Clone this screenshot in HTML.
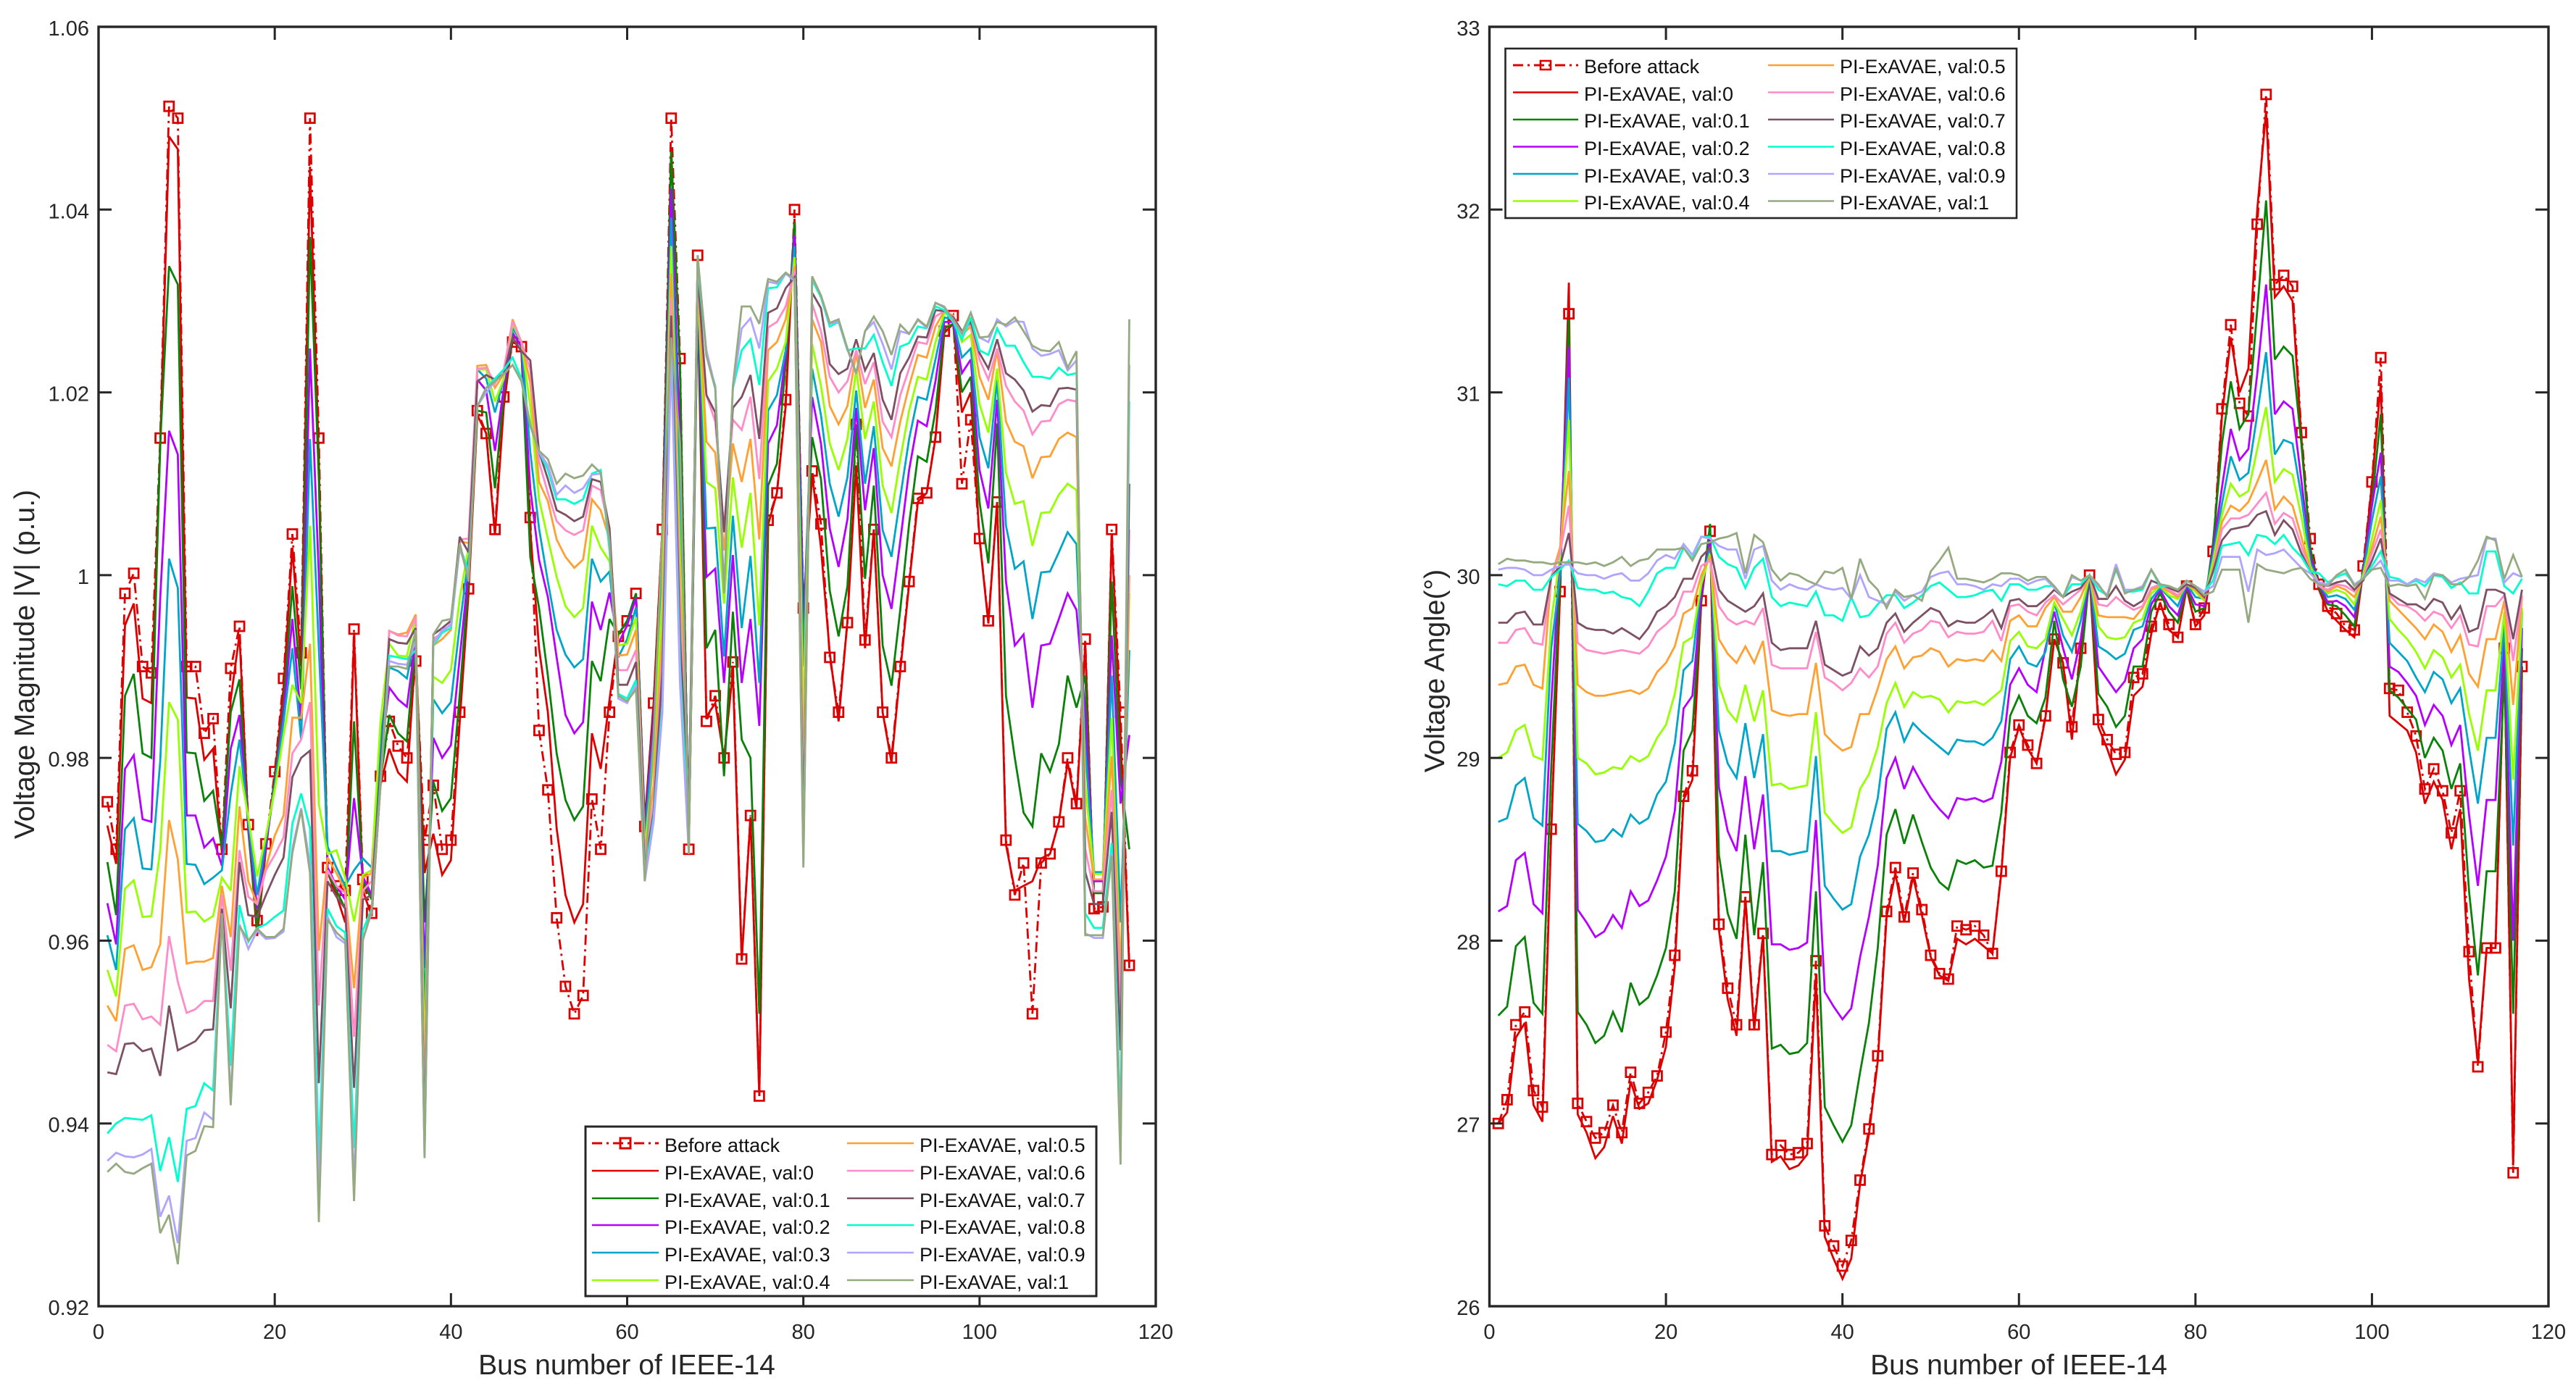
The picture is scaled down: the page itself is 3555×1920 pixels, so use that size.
<!DOCTYPE html>
<html lang="en">
<head>
<meta charset="utf-8">
<title>Voltage magnitude and angle after attack, PI-ExAVAE</title>
<style>
html,body{margin:0;padding:0;background:#fff;}
svg{display:block;}
text{font-family:"Liberation Sans",sans-serif;fill:#262626;}
.tick{font-size:29px;}
.lab{font-size:39px;}
.leg{font-size:27px;fill:#111;}
</style>
</head>
<body>
<svg id="fig" xmlns="http://www.w3.org/2000/svg" width="3555" height="1920" viewBox="0 0 3555 1920">
<rect width="3555" height="1920" fill="#fff"/>
<g id="magPlot"></g>
<g id="angPlot"></g>
<text class="lab" x="865" y="1897" text-anchor="middle">Bus number of IEEE-14</text>
<text class="lab" transform="translate(47 917) rotate(-90)" text-anchor="middle">Voltage Magnitude |V| (p.u.)</text>
<text class="lab" x="2786" y="1897" text-anchor="middle">Bus number of IEEE-14</text>
<text class="lab" transform="translate(1993 926) rotate(-90)" text-anchor="middle">Voltage Angle(°)</text>

<g>
<rect x="808" y="1555" width="705" height="234" fill="#fff" stroke="#262626" stroke-width="3"/>
<line x1="817" y1="1578" x2="909" y2="1578" stroke="#dc0000" stroke-width="3" stroke-dasharray="14 6 3 6"/>
<rect x="856" y="1571" width="14" height="14" fill="none" stroke="#dc0000" stroke-width="3"/>
<text class="leg" x="917" y="1590">Before attack</text>
<line x1="817" y1="1616" x2="909" y2="1616" stroke="#dc0000" stroke-width="2.6"/>
<text class="leg" x="917" y="1628">PI-ExAVAE, val:0</text>
<line x1="817" y1="1654" x2="909" y2="1654" stroke="#0a820a" stroke-width="2.6"/>
<text class="leg" x="917" y="1666">PI-ExAVAE, val:0.1</text>
<line x1="817" y1="1691" x2="909" y2="1691" stroke="#b400ff" stroke-width="2.6"/>
<text class="leg" x="917" y="1703">PI-ExAVAE, val:0.2</text>
<line x1="817" y1="1729" x2="909" y2="1729" stroke="#00a5c8" stroke-width="2.6"/>
<text class="leg" x="917" y="1741">PI-ExAVAE, val:0.3</text>
<line x1="817" y1="1767" x2="909" y2="1767" stroke="#96ff00" stroke-width="2.6"/>
<text class="leg" x="917" y="1779">PI-ExAVAE, val:0.4</text>
<line x1="1169" y1="1578" x2="1261" y2="1578" stroke="#ffa032" stroke-width="2.6"/>
<text class="leg" x="1269" y="1590">PI-ExAVAE, val:0.5</text>
<line x1="1169" y1="1616" x2="1261" y2="1616" stroke="#ff8cc8" stroke-width="2.6"/>
<text class="leg" x="1269" y="1628">PI-ExAVAE, val:0.6</text>
<line x1="1169" y1="1654" x2="1261" y2="1654" stroke="#7d5064" stroke-width="2.6"/>
<text class="leg" x="1269" y="1666">PI-ExAVAE, val:0.7</text>
<line x1="1169" y1="1691" x2="1261" y2="1691" stroke="#00ffcd" stroke-width="2.6"/>
<text class="leg" x="1269" y="1703">PI-ExAVAE, val:0.8</text>
<line x1="1169" y1="1729" x2="1261" y2="1729" stroke="#afa5ff" stroke-width="2.6"/>
<text class="leg" x="1269" y="1741">PI-ExAVAE, val:0.9</text>
<line x1="1169" y1="1767" x2="1261" y2="1767" stroke="#96aa82" stroke-width="2.6"/>
<text class="leg" x="1269" y="1779">PI-ExAVAE, val:1</text>
</g>

<g>
<rect x="2077.5" y="67" width="705.5" height="234" fill="#fff" stroke="#262626" stroke-width="2.6"/>
<line x1="2088" y1="90" x2="2178" y2="90" stroke="#dc0000" stroke-width="3" stroke-dasharray="14 6 3 6"/>
<rect x="2126" y="84" width="14" height="12" fill="none" stroke="#dc0000" stroke-width="2.6"/>
<text class="leg" x="2186" y="101">Before attack</text>
<line x1="2088" y1="127.5" x2="2178" y2="127.5" stroke="#dc0000" stroke-width="2.6"/>
<text class="leg" x="2186" y="139">PI-ExAVAE, val:0</text>
<line x1="2088" y1="165" x2="2178" y2="165" stroke="#0a820a" stroke-width="2.6"/>
<text class="leg" x="2186" y="176">PI-ExAVAE, val:0.1</text>
<line x1="2088" y1="202.5" x2="2178" y2="202.5" stroke="#b400ff" stroke-width="2.6"/>
<text class="leg" x="2186" y="214">PI-ExAVAE, val:0.2</text>
<line x1="2088" y1="240" x2="2178" y2="240" stroke="#00a5c8" stroke-width="2.6"/>
<text class="leg" x="2186" y="252">PI-ExAVAE, val:0.3</text>
<line x1="2088" y1="277.5" x2="2178" y2="277.5" stroke="#96ff00" stroke-width="2.6"/>
<text class="leg" x="2186" y="289">PI-ExAVAE, val:0.4</text>
<line x1="2440" y1="90" x2="2531" y2="90" stroke="#ffa032" stroke-width="2.6"/>
<text class="leg" x="2539" y="101">PI-ExAVAE, val:0.5</text>
<line x1="2440" y1="127.5" x2="2531" y2="127.5" stroke="#ff8cc8" stroke-width="2.6"/>
<text class="leg" x="2539" y="139">PI-ExAVAE, val:0.6</text>
<line x1="2440" y1="165" x2="2531" y2="165" stroke="#7d5064" stroke-width="2.6"/>
<text class="leg" x="2539" y="176">PI-ExAVAE, val:0.7</text>
<line x1="2440" y1="202.5" x2="2531" y2="202.5" stroke="#00ffcd" stroke-width="2.6"/>
<text class="leg" x="2539" y="214">PI-ExAVAE, val:0.8</text>
<line x1="2440" y1="240" x2="2531" y2="240" stroke="#afa5ff" stroke-width="2.6"/>
<text class="leg" x="2539" y="252">PI-ExAVAE, val:0.9</text>
<line x1="2440" y1="277.5" x2="2531" y2="277.5" stroke="#96aa82" stroke-width="2.6"/>
<text class="leg" x="2539" y="289">PI-ExAVAE, val:1</text>
</g>
</svg>

<script>
const xTickValues = [0, 20, 40, 60, 80, 100, 120];
const magTickLabels = ['0.92', '0.94', '0.96', '0.98', '1', '1.02', '1.04', '1.06'];
const magTickValues = [0.92, 0.94, 0.96, 0.98, 1, 1.02, 1.04, 1.06];
const angTickLabels = ['26', '27', '28', '29', '30', '31', '32', '33'];
const angTickValues = [26, 27, 28, 29, 30, 31, 32, 33];
const seriesNames = ['val-0', 'val-0.1', 'val-0.2', 'val-0.3', 'val-0.4', 'val-0.5', 'val-0.6', 'val-0.7', 'val-0.8', 'val-0.9', 'val-1'];
const seriesColors = ['#dc0000', '#0a820a', '#b400ff', '#00a5c8', '#96ff00', '#ffa032', '#ff8cc8', '#7d5064', '#00ffcd', '#afa5ff', '#96aa82'];

/* Voltage magnitude (p.u.), buses 1..117 */
const magBefore = [
.9752,.970,.998,1.0002,.990,.9893,1.015,1.0513,1.050,.990,
.990,.9827,.9843,.970,.9898,.9944,.9727,.9622,.9706,.9785,
.9887,1.0045,.9915,1.050,1.015,.968,.966,.9655,.9941,.9667,
.963,.978,.984,.9813,.980,.9906,.971,.977,.970,.971,
.985,.9985,1.018,1.0155,1.005,1.0195,1.0255,1.025,1.0063,.983,
.9765,.9625,.955,.952,.954,.9755,.970,.985,.9933,.995,
.998,.9725,.986,1.005,1.050,1.0237,.970,1.035,.984,.9868,
.980,.9905,.958,.9737,.943,1.006,1.009,1.0192,1.040,.9964,
1.0114,1.0056,.991,.985,.9948,1.0165,.9929,1.005,.985,.980,
.990,.9993,1.0084,1.009,1.0151,1.0267,1.0284,1.010,1.017,1.004,
.995,1.008,.971,.965,.9685,.952,.9685,.9695,.973,.980,
.975,.993,.9635,.9637,1.005,.985,.9573];
const magVal0 = [
.9726,.9684,.9945,.9969,.9865,.986,1.014,1.048,1.0466,.9866,
.9865,.9798,.981,.9696,.9864,.9935,.9725,.9605,.970,.978,
.9877,1.003,.990,1.0447,1.0125,.9675,.965,.962,.9935,.9655,
.9627,.977,.981,.9784,.9774,.992,.9674,.9717,.9672,.9688,
.984,.998,1.0175,1.0155,1.0044,1.0185,1.026,1.0245,1.005,.992,
.985,.9723,.965,.962,.964,.9827,.9788,.9864,.9935,.995,
.998,.973,.986,1.005,1.0467,1.0225,.970,1.030,.9845,.986,
.980,.9895,.9578,.9735,.943,1.0055,1.009,1.0185,1.039,.996,
1.011,1.003,.9915,.984,.995,1.012,.992,1.005,.985,.9795,
.9895,.999,1.008,1.009,1.015,1.0265,1.0275,1.0178,1.020,1.004,
.9947,1.008,.9705,.9655,.966,.9665,.969,.9695,.973,.9795,
.9745,.9925,.9632,.9632,1.0045,.9825,.957];
const magVal01 = [
.9686,.9628,.9868,.9892,.9805,.980,1.0144,1.0338,1.0318,.9806,
.9805,.9753,.9764,.9701,.985,.9886,.972,.9615,.9705,.9775,
.986,.9988,.9875,1.037,1.0105,.9675,.9655,.9635,.984,.9665,
.9645,.9775,.9847,.9827,.9818,.993,.962,.9774,.9742,.9756,
.987,.9995,1.018,1.0178,1.0095,1.020,1.026,1.0245,1.002,.9964,
.989,.9805,.9754,.9732,.9747,.9906,.9884,.9952,.9935,.995,
.998,.9725,.9845,1.0035,1.0464,1.0225,.970,1.0297,.992,.994,
.978,.996,.982,.980,.952,1.0098,1.0122,1.0231,1.0386,.995,
1.0151,1.0105,.9983,.9933,.9988,1.0163,.9996,1.0098,.9923,.9879,
.9962,1.0056,1.013,1.0124,1.018,1.027,1.0275,1.020,1.0217,1.008,
1.0013,1.0166,.9868,.980,.974,.9725,.9805,.9785,.9815,.989,
.9855,.989,.9652,.9652,.9993,.978,.970];
const magVal02 = [
.9641,.9596,.9788,.9803,.9733,.973,.9975,1.0158,1.0132,.9737,
.9737,.9702,.9712,.9682,.981,.9847,.9725,.9635,.9705,.977,
.985,.9952,.984,1.0248,1.000,.968,.966,.9645,.9756,.967,
.965,.980,.9877,.9864,.9856,.993,.957,.9822,.980,.9814,
.991,1.0005,1.0214,1.0202,1.0136,1.0205,1.0265,1.025,1.0095,1.0017,
.9976,.991,.9847,.9827,.9839,.9971,.994,.9981,.9925,.9945,
.9975,.972,.984,1.002,1.0423,1.0144,.971,1.031,.9998,1.0007,
.9882,1.0022,.9882,.9952,.9835,1.0144,1.0164,1.0241,1.0372,.9935,
1.0195,1.0144,1.0051,1.0009,1.0061,1.0183,1.0071,1.0139,1.000,.9963,
1.0037,1.0115,1.0169,1.0163,1.0212,1.0277,1.0277,1.0221,1.0236,1.0115,
1.0073,1.0192,.9993,.9923,.9935,.9855,.9923,.9925,.9952,.998,
.9962,.985,.9665,.9665,.9934,.975,.9825];
const magVal03 = [
.9606,.9568,.9722,.9734,.9679,.9678,.9796,1.0018,.9986,.9684,
.9683,.9662,.9669,.9677,.976,.982,.973,.965,.971,.977,
.984,.992,.982,1.0149,.992,.9703,.968,.966,.9677,.969,
.968,.982,.9899,.9895,.9887,.9935,.952,.9864,.9849,.9861,
.9945,1.002,1.0225,1.0215,1.0178,1.0215,1.027,1.0255,1.0135,1.0051,
.9993,.994,.9913,.9899,.9908,1.0018,.9993,1.0004,.991,.993,
.9965,.971,.9825,1.0005,1.0391,1.0085,.972,1.032,1.0051,1.0052,
.9911,1.0065,.9942,1.0021,.9882,1.018,1.0197,1.0246,1.036,.990,
1.0226,1.0175,1.010,1.0064,1.0107,1.0202,1.010,1.0163,1.0049,1.002,
1.0085,1.0149,1.0195,1.0192,1.0236,1.0282,1.028,1.0238,1.0248,1.0151,
1.0117,1.0214,1.0054,1.0007,1.0015,.9952,1.0003,1.0004,1.0025,1.0047,
1.0034,.981,.9675,.9675,.989,.962,.9918];
const magVal04 = [
.9568,.9539,.9657,.9666,.9626,.9627,.9699,.9861,.9842,.9631,
.9632,.9621,.9627,.9669,.9655,.9791,.9735,.967,.9715,.9765,
.9825,.988,.986,1.0054,.975,.9695,.9699,.9669,.9621,.9672,
.9677,.984,.9925,.9912,.9911,.9954,.947,.9889,.9882,.9896,
.9975,1.003,1.0225,1.0225,1.019,1.0215,1.0275,1.0255,1.0185,1.0083,
1.004,.9998,.9966,.9954,.9964,1.0054,1.003,1.0015,.9923,.9925,
.9954,.970,.980,.998,1.036,1.002,.973,1.032,1.0102,1.0095,
.9969,1.0107,1.003,1.009,.9945,1.0212,1.0226,1.0255,1.0348,.984,
1.0253,1.0207,1.0144,1.0115,1.0149,1.0226,1.0149,1.019,1.0098,1.0068,
1.0127,1.018,1.0217,1.0214,1.0255,1.0287,1.0282,1.0255,1.0263,1.0187,
1.0156,1.0226,1.0112,1.0078,1.0081,1.0032,1.0068,1.0069,1.0088,1.010,
1.0093,.977,.9673,.9673,.9844,.956,.998];
const magVal05 = [
.9529,.9512,.9591,.9595,.9568,.9571,.9596,.9732,.9689,.9575,
.9577,.9577,.9581,.966,.9604,.9747,.9665,.964,.968,.9715,
.9737,.9844,.9844,.9925,.9589,.9691,.9674,.9655,.9548,.9669,
.9674,.9767,.9939,.9935,.9937,.9957,.943,.9923,.993,.994,
1.0037,1.0035,1.0229,1.023,1.0205,1.022,1.028,1.0255,1.021,1.0102,
1.0081,1.0039,1.002,1.0008,1.0017,1.0083,1.0071,1.0039,.9912,.9913,
.994,.9695,.977,.994,1.033,.9985,.974,1.0325,1.0146,1.0134,
1.0027,1.0144,1.0102,1.0149,1.0039,1.0246,1.0255,1.028,1.0338,.978,
1.028,1.0255,1.0185,1.0165,1.0185,1.0243,1.0183,1.0214,1.0139,1.0119,
1.0168,1.0207,1.0241,1.0238,1.0272,1.0289,1.0284,1.0263,1.0272,1.0217,
1.0192,1.0246,1.0168,1.0146,1.0141,1.0106,1.0129,1.013,1.0149,1.0156,
1.0151,.9735,.9667,.9667,.9802,.955,1.000];
const magVal06 = [
.9486,.9479,.9529,.9531,.9514,.9517,.9508,.9605,.9555,.9521,
.9525,.9534,.9534,.965,.9567,.9699,.9648,.964,.9677,.9694,
.9713,.9805,.982,.9861,.9529,.9677,.966,.9652,.9495,.9655,
.9665,.978,.9939,.9934,.9933,.9954,.940,.993,.9937,.9947,
1.0039,1.004,1.0226,1.0227,1.021,1.0225,1.0278,1.0255,1.0225,1.0124,
1.009,1.0059,1.0049,1.0044,1.0049,1.0098,1.0093,1.0047,.9896,.9896,
.9918,.969,.975,.9915,1.0304,.996,.9745,1.0325,1.0197,1.0168,
1.0051,1.017,1.0159,1.0195,1.0105,1.0271,1.0277,1.0294,1.0333,.974,
1.0297,1.0267,1.0217,1.020,1.0212,1.0246,1.0209,1.0233,1.0168,1.0151,
1.0197,1.0226,1.0255,1.0253,1.0283,1.0289,1.0283,1.0267,1.0275,1.0236,
1.0214,1.0248,1.0207,1.019,1.018,1.0154,1.0168,1.0169,1.0187,1.0192,
1.019,.970,.9654,.9654,.9765,.952,1.005];
const magVal07 = [
.9456,.9454,.9487,.9488,.9479,.9482,.9452,.9529,.948,.9485,
.949,.9502,.9503,.9635,.9526,.9686,.9628,.9626,.965,.9672,
.9691,.9779,.980,.9808,.9444,.9665,.9648,.9635,.9439,.9645,
.965,.979,.993,.9926,.9925,.9942,.9385,.9935,.9942,.995,
1.0042,1.0025,1.0212,1.0219,1.0214,1.022,1.026,1.0245,1.0235,1.0135,
1.0105,1.0071,1.0066,1.0059,1.0064,1.0105,1.0102,1.0051,.988,.988,
.9905,.968,.974,.9895,1.0284,.993,.9745,1.033,1.0197,1.0178,
1.0047,1.0183,1.0195,1.0219,1.0149,1.0287,1.0292,1.0314,1.0326,.972,
1.0309,1.0292,1.0231,1.022,1.0226,1.0258,1.0224,1.0243,1.0192,1.017,
1.0221,1.0238,1.0261,1.026,1.029,1.0289,1.0282,1.0267,1.0277,1.0243,
1.0226,1.0258,1.0221,1.0214,1.0202,1.0179,1.0186,1.0185,1.0204,1.0205,
1.0203,.9675,.964,.964,.9741,.948,1.010];
const magVal08 = [
.9389,.940,.9406,.9405,.9404,.9409,.9348,.9385,.9336,.9416,
.9419,.9444,.9436,.9626,.9463,.9639,.9599,.9614,.9618,.9626,
.9633,.9728,.9761,.9723,.9359,.9635,.9616,.9609,.9373,.9611,
.9635,.9775,.9912,.991,.9908,.9918,.937,.9923,.9937,.9942,
1.0032,1.0003,1.0185,1.0205,1.0215,1.0225,1.0238,1.0215,1.0165,1.0135,
1.0115,1.0083,1.0083,1.0078,1.0083,1.0111,1.0115,1.0027,.987,.9865,
.9885,.967,.9735,.986,1.0253,.990,.971,1.034,1.0241,1.0207,
.9983,1.0204,1.0246,1.0258,1.0208,1.0314,1.0315,1.033,1.0324,.969,
1.0323,1.0304,1.0272,1.0277,1.0246,1.0248,1.0248,1.0263,1.0233,1.0207,
1.025,1.0254,1.0272,1.027,1.0294,1.029,1.0277,1.0258,1.0282,1.0246,
1.0241,1.027,1.0251,1.0251,1.0233,1.0217,1.0217,1.0215,1.0227,1.0219,
1.0221,.963,.9614,.9614,.9707,.940,1.019];
const magVal09 = [
.9359,.9368,.9364,.9363,.9366,.9372,.9298,.9321,.9269,.9381,
.9384,.9412,.9404,.963,.9429,.9618,.9591,.9611,.9602,.9603,
.961,.9701,.9745,.9684,.932,.9626,.9604,.9597,.9334,.9601,
.9631,.977,.9906,.9903,.9902,.9928,.9365,.9925,.994,.9945,
1.003,.9998,1.0185,1.020,1.0212,1.022,1.023,1.0212,1.0165,1.0135,
1.012,1.0088,1.0098,1.009,1.0095,1.011,1.0111,1.0035,.9865,.986,
.988,.9665,.973,.985,1.024,.988,.9695,1.0345,1.0246,1.0205,
.9985,1.0205,1.027,1.0281,1.0248,1.0321,1.0319,1.033,1.0322,.9685,
1.0326,1.0306,1.0275,1.0278,1.0247,1.022,1.0267,1.0277,1.0253,1.0225,
1.0267,1.0264,1.0279,1.0271,1.0298,1.0294,1.0279,1.0264,1.0287,1.026,
1.0255,1.028,1.0272,1.0278,1.0277,1.0248,1.024,1.0242,1.0246,1.0224,
1.0235,.9608,.9603,.9603,.9695,.937,1.023];
const magVal1 = [
.9347,.9356,.9347,.9345,.9351,.9356,.928,.930,.9246,.9365,
.937,.9397,.9396,.963,.942,.9616,.960,.9613,.9604,.9604,
.9613,.9696,.9743,.9674,.9292,.9623,.9609,.960,.9315,.9601,
.9633,.977,.990,.990,.98975,.994,.9362,.9935,.995,.9952,
1.0035,.9993,1.0185,1.0205,1.0212,1.022,1.023,1.0212,1.0163,1.0136,
1.0127,1.010,1.0111,1.0106,1.0109,1.0121,1.0112,1.0037,.9868,.9862,
.9875,.9665,.982,1.005,1.026,1.0144,.9695,1.035,1.024,1.0204,
.998,1.0207,1.0294,1.0294,1.0275,1.0324,1.0321,1.0331,1.0324,.968,
1.0327,1.0306,1.0276,1.028,1.0248,1.0221,1.0267,1.0283,1.0267,1.0241,
1.0274,1.0264,1.028,1.0272,1.0298,1.0293,1.028,1.0265,1.0287,1.026,
1.0261,1.0277,1.0274,1.0282,1.0267,1.0251,1.0246,1.0245,1.0255,1.0227,
1.0245,.9606,.9606,.9606,.9693,.9355,1.028];

/* Voltage angle (deg), buses 1..117 */
const angBefore = [
27.0,27.13,27.54,27.61,27.18,27.09,28.61,29.91,31.43,27.11,
27.01,26.92,26.95,27.1,26.95,27.28,27.11,27.17,27.26,27.5,
27.92,28.79,28.93,29.86,30.24,28.09,27.74,27.54,28.24,27.54,
28.04,26.83,26.88,26.83,26.84,26.89,27.89,26.44,26.33,26.22,
26.36,26.69,26.97,27.37,28.16,28.4,28.13,28.37,28.17,27.92,
27.82,27.79,28.08,28.06,28.08,28.03,27.93,28.38,29.03,29.18,
29.07,28.97,29.23,29.65,29.52,29.17,29.6,30.0,29.21,29.1,
29.02,29.03,29.44,29.46,29.72,29.84,29.73,29.66,29.94,29.73,
29.82,30.13,30.91,31.37,30.94,30.87,31.92,32.63,31.59,31.64,
31.58,30.78,30.2,29.95,29.83,29.79,29.72,29.7,30.05,30.51,
31.19,29.38,29.37,29.25,29.12,28.83,28.94,28.82,28.59,28.82,
27.94,27.31,27.96,27.96,29.6,26.73,29.5];
const angVal0 = [
27.0,27.06,27.47,27.55,27.1,27.01,28.6,29.9,31.6,27.05,
26.95,26.81,26.87,27.04,26.89,27.23,27.08,27.11,27.24,27.42,
27.86,28.77,28.88,29.85,30.25,28.06,27.68,27.48,28.23,27.51,
28.03,26.79,26.82,26.75,26.77,26.83,27.81,26.38,26.26,26.15,
26.26,26.67,26.94,27.34,28.13,28.37,28.1,28.35,28.14,27.91,
27.81,27.78,28.01,27.98,28.01,27.97,27.93,28.37,29.0,29.17,
29.05,28.97,29.22,29.65,29.52,29.1,29.6,30.0,29.17,29.05,
28.91,28.99,29.34,29.39,29.68,29.85,29.7,29.66,29.93,29.72,
29.78,30.1,30.87,31.3,31.0,31.13,32.0,32.54,31.52,31.58,
31.5,30.75,30.15,29.92,29.8,29.75,29.7,29.66,30.02,30.5,
31.05,29.23,29.19,29.15,29.03,28.75,28.87,28.77,28.5,28.72,
27.79,27.34,27.96,27.96,29.6,26.77,29.5];
const angVal01 = [
27.59,27.64,27.97,28.02,27.66,27.6,28.95,30.0,31.4,27.61,
27.54,27.44,27.48,27.61,27.5,27.77,27.65,27.69,27.81,27.96,
28.27,29.04,29.15,29.87,30.28,28.47,28.15,28.01,28.58,28.03,
28.43,27.41,27.43,27.38,27.39,27.44,28.27,27.09,26.99,26.9,
26.99,27.28,27.55,27.96,28.58,28.72,28.53,28.69,28.54,28.4,
28.32,28.28,28.44,28.42,28.44,28.4,28.41,28.7,29.23,29.34,
29.23,29.19,29.33,29.75,29.43,29.28,29.5,30.0,29.35,29.28,
29.17,29.23,29.5,29.5,29.8,29.9,29.8,29.74,29.93,29.8,
29.82,30.18,30.72,31.06,30.8,30.88,31.45,32.05,31.18,31.25,
31.2,30.72,30.15,29.93,29.84,29.83,29.78,29.72,30.03,30.4,
30.88,29.37,29.33,29.27,29.21,29.0,29.11,29.04,28.83,28.97,
28.27,27.81,28.38,28.38,29.47,27.6,29.6];
const angVal02 = [
28.16,28.19,28.44,28.48,28.2,28.15,29.3,30.1,31.25,28.17,
28.1,28.02,28.05,28.14,28.07,28.27,28.19,28.22,28.33,28.46,
28.71,29.27,29.34,29.9,30.2,28.84,28.6,28.49,28.9,28.5,
28.8,27.98,27.98,27.95,27.96,27.99,28.66,27.72,27.64,27.57,
27.63,27.91,28.13,28.41,28.89,29.0,28.83,28.95,28.86,28.78,
28.72,28.67,28.78,28.77,28.78,28.76,28.78,28.98,29.4,29.49,
29.4,29.36,29.6,29.8,29.6,29.43,29.65,30.0,29.5,29.43,
29.36,29.42,29.6,29.65,29.84,29.92,29.83,29.78,29.94,29.84,
29.83,30.14,30.48,30.8,30.63,30.69,31.1,31.59,30.88,30.95,
30.91,30.52,30.1,29.95,29.85,29.86,29.83,29.77,30.02,30.38,
30.67,29.5,29.47,29.41,29.34,29.18,29.29,29.23,29.07,29.18,
28.69,28.3,28.77,28.77,29.66,28.0,29.71];
const angVal03 = [
28.65,28.67,28.85,28.89,28.67,28.63,29.6,30.0,31.08,28.64,
28.6,28.54,28.55,28.61,28.57,28.69,28.64,28.67,28.8,28.87,
29.08,29.48,29.53,29.95,30.15,29.15,28.97,28.89,29.19,28.89,
29.13,28.49,28.49,28.47,28.48,28.49,29.01,28.3,28.23,28.17,
28.2,28.46,28.58,28.78,29.16,29.25,29.09,29.19,29.14,29.1,
29.06,29.02,29.1,29.09,29.09,29.07,29.11,29.2,29.54,29.61,
29.52,29.5,29.58,29.85,29.67,29.58,29.75,30.0,29.61,29.58,
29.54,29.57,29.7,29.72,29.87,29.93,29.88,29.83,29.95,29.88,
29.87,30.11,30.39,30.65,30.52,30.56,30.88,31.22,30.66,30.74,
30.72,30.43,30.07,29.95,29.88,29.89,29.87,29.81,30.01,30.3,
30.54,29.63,29.58,29.53,29.44,29.36,29.47,29.43,29.3,29.38,
29.05,28.75,29.11,29.11,29.74,28.52,29.8];
const angVal04 = [
29.0,29.03,29.15,29.18,29.01,28.99,29.75,30.1,30.85,29.0,
28.97,28.91,28.92,28.95,28.94,29.01,28.98,29.01,29.11,29.18,
29.35,29.63,29.66,29.95,30.12,29.4,29.26,29.2,29.4,29.2,
29.37,28.85,28.86,28.83,28.84,28.85,29.25,28.7,28.64,28.59,
28.62,28.83,28.91,29.06,29.3,29.41,29.28,29.36,29.33,29.34,
29.32,29.25,29.31,29.3,29.31,29.29,29.33,29.37,29.64,29.69,
29.61,29.6,29.65,29.85,29.76,29.67,29.8,30.0,29.72,29.66,
29.65,29.66,29.74,29.76,29.9,29.94,29.89,29.87,29.95,29.91,
29.86,30.08,30.33,30.5,30.43,30.46,30.69,30.92,30.51,30.58,
30.55,30.32,30.05,29.95,29.9,29.92,29.9,29.84,30.0,30.2,
30.41,29.76,29.7,29.65,29.58,29.49,29.59,29.55,29.44,29.51,
29.24,29.04,29.37,29.37,29.8,28.88,29.82];
const angVal05 = [
29.4,29.41,29.5,29.51,29.4,29.38,29.99,30.15,30.57,29.4,
29.36,29.34,29.34,29.35,29.36,29.37,29.35,29.38,29.47,29.52,
29.61,29.79,29.82,30.0,30.1,29.65,29.57,29.52,29.61,29.52,
29.64,29.26,29.24,29.23,29.24,29.24,29.52,29.13,29.08,29.04,
29.06,29.24,29.24,29.38,29.54,29.61,29.49,29.55,29.56,29.6,
29.58,29.5,29.54,29.53,29.54,29.53,29.59,29.53,29.75,29.78,
29.72,29.72,29.82,29.88,29.8,29.8,29.88,30.0,29.78,29.77,
29.77,29.77,29.76,29.82,29.92,29.94,29.91,29.88,29.95,29.92,
29.87,30.04,30.29,30.38,30.35,30.4,30.51,30.63,30.36,30.43,
30.38,30.21,30.03,29.94,29.91,29.94,29.92,29.88,29.98,30.15,
30.32,29.86,29.81,29.76,29.71,29.65,29.73,29.69,29.58,29.67,
29.46,29.39,29.65,29.65,29.86,29.29,29.88];
const angVal06 = [
29.63,29.63,29.7,29.71,29.63,29.62,29.99,30.12,30.38,29.63,
29.59,29.58,29.57,29.58,29.59,29.58,29.57,29.61,29.69,29.73,
29.78,29.91,29.91,30.05,30.08,29.83,29.76,29.73,29.75,29.73,
29.82,29.51,29.49,29.49,29.49,29.49,29.69,29.44,29.41,29.37,
29.41,29.49,29.44,29.5,29.68,29.74,29.63,29.68,29.7,29.75,
29.74,29.66,29.69,29.68,29.68,29.69,29.75,29.64,29.83,29.84,
29.8,29.78,29.85,29.89,29.84,29.88,29.92,30.0,29.84,29.83,
29.88,29.84,29.81,29.83,29.93,29.95,29.92,29.89,29.95,29.93,
29.88,30.03,30.25,30.31,30.31,30.33,30.39,30.45,30.28,30.34,
30.31,30.16,30.02,29.94,29.92,29.95,29.94,29.91,29.98,30.12,
30.25,29.89,29.84,29.83,29.8,29.75,29.8,29.78,29.71,29.78,
29.62,29.61,29.83,29.83,29.89,29.53,29.89];
const angVal07 = [
29.74,29.74,29.79,29.8,29.73,29.73,29.99,30.05,30.23,29.74,
29.71,29.7,29.7,29.68,29.71,29.68,29.65,29.71,29.8,29.83,
29.88,29.98,29.98,30.1,30.15,29.92,29.86,29.83,29.8,29.83,
29.9,29.63,29.59,29.6,29.6,29.6,29.75,29.51,29.48,29.45,
29.47,29.61,29.56,29.6,29.74,29.79,29.69,29.74,29.78,29.82,
29.8,29.72,29.75,29.74,29.74,29.77,29.81,29.71,29.86,29.87,
29.83,29.83,29.87,29.92,29.88,29.91,29.93,30.0,29.87,29.87,
29.94,29.86,29.83,29.86,29.97,29.95,29.93,29.91,29.95,29.93,
29.88,30.02,30.19,30.25,30.26,30.27,30.33,30.35,30.22,30.3,
30.25,30.12,30.02,29.95,29.94,29.96,29.97,29.92,29.97,30.08,
30.2,29.9,29.87,29.84,29.84,29.81,29.87,29.85,29.76,29.83,
29.69,29.71,29.92,29.92,29.9,29.65,29.92];
const angVal08 = [
29.95,29.94,29.97,29.97,29.92,29.92,29.99,30.03,30.08,29.93,
29.92,29.92,29.9,29.91,29.88,29.87,29.83,29.91,30.01,30.04,
30.04,30.15,30.09,30.21,30.21,30.1,30.06,30.04,29.93,30.04,
30.09,29.88,29.83,29.85,29.84,29.83,29.91,29.78,29.78,29.75,
29.88,29.77,29.78,29.84,29.89,29.89,29.82,29.85,29.89,29.94,
29.96,29.92,29.88,29.88,29.89,29.91,29.92,29.86,29.95,29.95,
29.92,29.92,29.94,29.94,29.88,29.95,29.95,30.0,29.92,29.89,
30.03,29.91,29.91,29.92,30.03,29.94,29.94,29.92,29.97,29.94,
29.91,29.97,30.16,30.17,30.18,30.11,30.22,30.21,30.17,30.22,
30.15,30.1,30.02,30.01,29.96,29.99,30.01,29.95,29.98,30.05,
30.13,29.99,29.98,29.95,29.97,29.94,30.0,29.99,29.93,29.96,
29.9,29.9,30.13,30.13,29.94,29.9,29.98];
const angVal09 = [
30.03,30.04,30.04,30.03,30.0,30.0,30.03,30.05,30.06,30.01,
30.0,30.0,29.98,30.0,30.01,29.97,29.97,30.01,30.08,30.11,
30.09,30.17,30.11,30.21,30.2,30.16,30.14,30.14,29.98,30.14,
30.16,29.97,29.92,29.95,29.93,29.92,29.95,29.93,29.92,29.93,
29.87,30.0,29.88,29.86,29.84,29.91,29.86,29.89,29.91,29.99,
30.01,30.02,29.95,29.95,29.94,29.92,29.95,29.94,29.98,29.98,
29.95,29.97,29.98,29.93,29.88,29.99,29.97,30.0,29.94,29.89,
30.06,29.92,29.92,29.94,30.03,29.95,29.94,29.92,29.97,29.94,
29.91,29.94,30.1,30.1,30.1,29.91,30.14,30.11,30.12,30.14,
30.09,30.04,30.01,29.96,29.95,30.0,30.03,29.95,29.98,30.03,
30.08,29.97,29.97,29.95,29.98,29.96,30.01,30.0,29.96,29.98,
29.99,30.0,30.2,30.2,29.96,30.01,29.99];
const angVal1 = [
30.06,30.09,30.08,30.08,30.07,30.07,30.06,30.07,30.07,30.07,
30.06,30.07,30.05,30.07,30.1,30.05,30.08,30.09,30.14,30.14,
30.14,30.15,30.08,30.17,30.18,30.2,30.21,30.23,30.01,30.22,
30.18,30.03,29.97,30.01,30.0,29.97,29.95,30.02,30.01,30.04,
29.87,30.09,29.97,29.92,29.82,29.92,29.88,29.89,29.86,30.02,
30.08,30.15,29.98,29.98,29.97,29.96,29.98,30.01,30.01,30.0,
29.97,29.99,29.99,29.94,29.88,30.0,29.97,30.0,29.95,29.88,
30.04,29.9,29.92,29.93,30.03,29.95,29.94,29.92,29.97,29.94,
29.89,29.91,30.03,30.03,30.03,29.74,30.06,30.03,30.02,30.01,
30.03,30.04,29.98,29.95,29.94,30.0,30.03,29.94,29.98,30.03,
30.04,29.94,29.95,29.94,29.95,29.87,30.0,30.0,29.95,29.95,
29.99,30.08,30.21,30.19,29.98,30.11,29.99];

const magSeries = [magVal0, magVal01, magVal02, magVal03, magVal04, magVal05, magVal06, magVal07, magVal08, magVal09, magVal1];
const angSeries = [angVal0, angVal01, angVal02, angVal03, angVal04, angVal05, angVal06, angVal07, angVal08, angVal09, angVal1];

const SVGNS = 'http://www.w3.org/2000/svg';
const AXIS = '#262626';

function make(tag, attrs) {
  const el = document.createElementNS(SVGNS, tag);
  for (const k in attrs) el.setAttribute(k, attrs[k]);
  return el;
}

function drawChart(root, box, yDomain, yTicks, yLabels, before, series) {
  const xScale = v => box.left + (v / 120) * (box.right - box.left);
  const yScale = v => box.bottom - ((v - yDomain[0]) / (yDomain[1] - yDomain[0])) * (box.bottom - box.top);
  const path = values => values.map((v, i) => (i ? 'L' : 'M') + xScale(i + 1).toFixed(1) + ' ' + yScale(v).toFixed(1)).join('');

  const beforeLine = make('path', {d: path(before), fill: 'none', stroke: seriesColors[0], 'stroke-width': 2.8, 'stroke-dasharray': '14 6 3 6', 'stroke-linejoin': 'miter'});
  
  
  root.appendChild(beforeLine);

  before.forEach((v, i) => {
    const m = make('rect', {x: xScale(i + 1) - 6.5, y: yScale(v) - 6.5, width: 13, height: 13, fill: 'none', stroke: seriesColors[0], 'stroke-width': 2.8});
    
    
    root.appendChild(m);
  });

  series.forEach((values, s) => {
    const line = make('path', {d: path(values), fill: 'none', stroke: seriesColors[s], 'stroke-width': 2.8, 'stroke-linejoin': 'miter', 'stroke-miterlimit': 3});
    
    
    root.appendChild(line);
  });

  const frame = make('rect', {x: box.left, y: box.top, width: box.right - box.left, height: box.bottom - box.top, fill: 'none', stroke: AXIS, 'stroke-width': 3.4});
  
  
  root.appendChild(frame);

  xTickValues.forEach(v => {
    const x = xScale(v);
    if (v > 0 && v < 120) {
      const t1 = make('line', {x1: x, x2: x, y1: box.bottom, y2: box.bottom - 18, stroke: AXIS, 'stroke-width': 3});
      
      
      root.appendChild(t1);
      const t2 = make('line', {x1: x, x2: x, y1: box.top, y2: box.top + 18, stroke: AXIS, 'stroke-width': 3});
      
      
      root.appendChild(t2);
    }
    const label = make('text', {x: x, y: box.bottom + 45, 'text-anchor': 'middle', class: 'tick'});
    
    
    label.textContent = String(v);
    root.appendChild(label);
  });

  yTicks.forEach((v, i) => {
    const y = yScale(v);
    if (i > 0 && i < yTicks.length - 1) {
      const t1 = make('line', {x1: box.left, x2: box.left + 18, y1: y, y2: y, stroke: AXIS, 'stroke-width': 3});
      
      
      root.appendChild(t1);
      const t2 = make('line', {x1: box.right, x2: box.right - 18, y1: y, y2: y, stroke: AXIS, 'stroke-width': 3});
      
      
      root.appendChild(t2);
    }
    const label = make('text', {x: box.left - 13, y: y + 12, 'text-anchor': 'end', class: 'tick'});
    
    
    label.textContent = yLabels[i];
    root.appendChild(label);
  });
}

drawChart(document.getElementById('magPlot'), {left: 136, right: 1595, top: 37, bottom: 1803}, [0.92, 1.06], magTickValues, magTickLabels, magBefore, magSeries);
drawChart(document.getElementById('angPlot'), {left: 2055.5, right: 3517, top: 37, bottom: 1803}, [26, 33], angTickValues, angTickLabels, angBefore, angSeries);
</script>
</body>
</html>
